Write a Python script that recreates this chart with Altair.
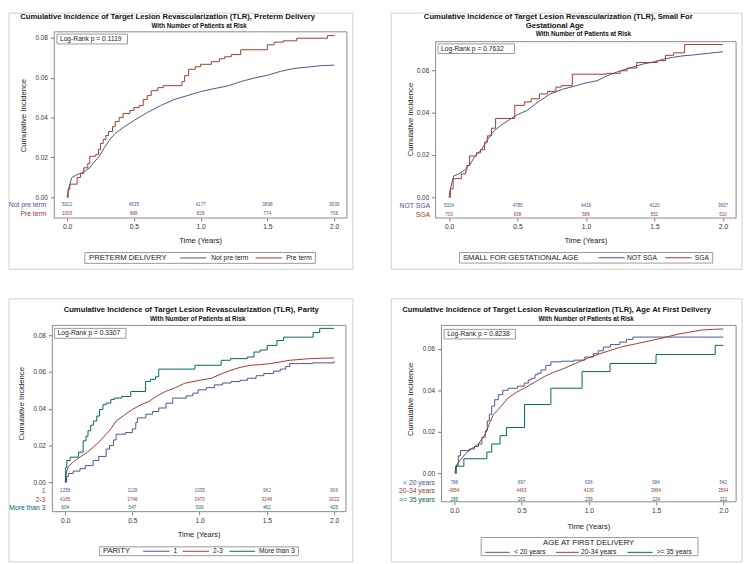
import altair as alt
import pandas as pd

FONT = "Liberation Sans"
BLUE, RED, GREEN = "#445694", "#A23A2E", "#01665E"
TXT = "#111111"
X_TICKS = [0.0, 0.5, 1.0, 1.5, 2.0]
RISK_TIMES = [0.0, 0.5, 1.0, 1.5, 2.0]

# ---------------- Panel 1: Preterm delivery ----------------
pt_groups = ["Not pre term", "Pre term"]
pt_not = [(0, 0), (0.01, 0.004), (0.035, 0.0099), (0.07, 0.0112), (0.1, 0.012), (0.14, 0.0135),
          (0.17, 0.0148), (0.2, 0.0175), (0.24, 0.0205), (0.28, 0.025), (0.32, 0.029), (0.36, 0.032),
          (0.42, 0.035), (0.5, 0.0385), (0.6, 0.0425), (0.7, 0.046), (0.8, 0.049), (0.9, 0.051),
          (1.0, 0.053), (1.1, 0.0545), (1.2, 0.0558), (1.3, 0.058), (1.4, 0.0598), (1.5, 0.0612),
          (1.6, 0.0632), (1.7, 0.0646), (1.8, 0.0653), (1.9, 0.066), (2.0, 0.0663)]
pt_pre = [(0, 0), (0.008, 0.004), (0.02, 0.0066), (0.075, 0.0099), (0.1, 0.012), (0.125, 0.0148),
          (0.155, 0.017), (0.17, 0.0206), (0.215, 0.0215), (0.235, 0.024), (0.25, 0.027), (0.27, 0.029),
          (0.29, 0.031), (0.31, 0.033), (0.34, 0.0354), (0.36, 0.038), (0.39, 0.04), (0.42, 0.042),
          (0.47, 0.0436), (0.5, 0.045), (0.54, 0.046), (0.57, 0.049), (0.6, 0.051), (0.63, 0.0535),
          (0.68, 0.055), (0.72, 0.056), (0.86, 0.058), (0.88, 0.061), (0.91, 0.0642), (0.96, 0.0655),
          (1.0, 0.0667), (1.08, 0.068), (1.14, 0.0695), (1.18, 0.0705), (1.23, 0.0716), (1.3, 0.074),
          (1.5, 0.0765), (1.55, 0.0778), (1.62, 0.0785), (1.72, 0.0798), (1.95, 0.0811), (2.0, 0.0815)]
pt_risk = [[5022, 4535, 4177, 3898, 3639], [1005, 888, 828, 774, 708]]
pt_p = "Log-Rank p = 0.1119"

# ---------------- Panel 2: Small for gestational age ----------------
sga_groups = ["NOT SGA", "SGA"]
sga_not = [(0, 0), (0.01, 0.004), (0.034, 0.0101), (0.07, 0.011), (0.106, 0.0124), (0.153, 0.0155),
           (0.19, 0.0194), (0.237, 0.0225), (0.27, 0.026), (0.3, 0.029), (0.33, 0.0315), (0.38, 0.034),
           (0.45, 0.037), (0.5, 0.039), (0.57, 0.041), (0.65, 0.045), (0.74, 0.0488), (0.83, 0.051),
           (0.93, 0.0527), (1.0, 0.054), (1.08, 0.055), (1.16, 0.0575), (1.25, 0.0597), (1.33, 0.0612),
           (1.41, 0.0628), (1.5, 0.064), (1.56, 0.0651), (1.63, 0.066), (1.7, 0.0667), (1.8, 0.0673),
           (1.9, 0.068), (2.0, 0.0687)]
sga_yes = [(0, 0), (0.01, 0.004), (0.03, 0.0088), (0.09, 0.011), (0.12, 0.0124), (0.13, 0.015),
           (0.15, 0.0195), (0.2, 0.021), (0.23, 0.0225), (0.26, 0.026), (0.28, 0.029), (0.31, 0.0326),
           (0.34, 0.0372), (0.48, 0.0434), (0.55, 0.045), (0.6, 0.0465), (0.66, 0.0488), (0.72, 0.05),
           (0.78, 0.052), (0.82, 0.0527), (0.9, 0.0581), (1.15, 0.0585), (1.25, 0.0597), (1.3, 0.061),
           (1.37, 0.0636), (1.52, 0.0645), (1.58, 0.067), (1.64, 0.0682), (1.72, 0.0721), (2.0, 0.0721)]
sga_risk = [[5324, 4785, 4418, 4120, 3837], [703, 638, 589, 552, 510]]
sga_p = "Log-Rank p = 0.7632"

# ---------------- Panel 3: Parity ----------------
par_groups = ["1", "2-3", "More than 3"]
par_1 = [(0, 0), (0.01, 0.003), (0.024, 0.0047), (0.06, 0.006), (0.11, 0.0073), (0.15, 0.009),
         (0.208, 0.0118), (0.25, 0.014), (0.305, 0.018), (0.33, 0.02), (0.36, 0.023), (0.379, 0.0261),
         (0.45, 0.027), (0.5, 0.029), (0.525, 0.0324), (0.537, 0.035), (0.6, 0.037), (0.65, 0.0385),
         (0.696, 0.0404), (0.75, 0.043), (0.8, 0.0458), (0.9, 0.047), (0.95, 0.0485), (0.989, 0.0503),
         (1.05, 0.0515), (1.11, 0.053), (1.17, 0.054), (1.233, 0.0548), (1.3, 0.0555), (1.355, 0.0566),
         (1.42, 0.058), (1.477, 0.0592), (1.55, 0.0605), (1.6, 0.0616), (1.64, 0.063), (1.67, 0.0646),
         (1.84, 0.065), (2.0, 0.066)]
par_23 = [(0, 0), (0.008, 0.005), (0.024, 0.0085), (0.06, 0.011), (0.11, 0.0136), (0.16, 0.016),
          (0.208, 0.019), (0.26, 0.0225), (0.305, 0.0261), (0.34, 0.029), (0.379, 0.0333), (0.44, 0.0365),
          (0.5, 0.0396), (0.56, 0.042), (0.623, 0.044), (0.68, 0.0468), (0.745, 0.0494), (0.82, 0.0515),
          (0.89, 0.0539), (0.98, 0.0552), (1.087, 0.0566), (1.16, 0.059), (1.233, 0.061), (1.3, 0.0625),
          (1.38, 0.0637), (1.45, 0.064), (1.526, 0.0646), (1.6, 0.0655), (1.67, 0.0664), (1.82, 0.0673),
          (2.0, 0.0677)]
par_3p = [(0, 0), (0.004, 0.008), (0.012, 0.0118), (0.037, 0.0136), (0.1, 0.0163), (0.134, 0.0225),
          (0.155, 0.025), (0.17, 0.028), (0.19, 0.031), (0.21, 0.0333), (0.235, 0.036), (0.256, 0.0396),
          (0.281, 0.0422), (0.305, 0.0431), (0.34, 0.045), (0.366, 0.0458), (0.42, 0.0467), (0.488, 0.0494),
          (0.598, 0.0548), (0.635, 0.056), (0.672, 0.0574), (0.696, 0.0616), (0.965, 0.0637), (1.16, 0.0664),
          (1.23, 0.0673), (1.355, 0.0682), (1.404, 0.0709), (1.45, 0.072), (1.502, 0.0745), (1.575, 0.0772),
          (1.624, 0.079), (1.844, 0.0816), (1.893, 0.0838), (2.0, 0.0838)]
par_risk = [[1258, 1128, 1035, 962, 906], [4165, 3748, 3470, 3248, 3022], [604, 547, 500, 462, 425]]
par_p = "Log-Rank p = 0.3307"

# ---------------- Panel 4: Age at first delivery ----------------
age_groups = ["< 20 years", "20-34 years", ">= 35 years"]
age_lt20 = [(0.01, 0), (0.015, 0.004), (0.03, 0.0085), (0.046, 0.011), (0.11, 0.0118), (0.15, 0.013),
            (0.18, 0.0142), (0.205, 0.0174), (0.23, 0.0205), (0.245, 0.0253), (0.26, 0.0285), (0.278, 0.0324),
            (0.3, 0.0355), (0.327, 0.0379), (0.36, 0.04), (0.4, 0.041), (0.47, 0.042), (0.52, 0.0435),
            (0.55, 0.045), (0.571, 0.0458), (0.6, 0.0475), (0.62, 0.0482), (0.645, 0.0498), (0.68, 0.052),
            (0.718, 0.0537), (0.8, 0.054), (0.89, 0.0545), (0.97, 0.056), (1.035, 0.0576), (1.07, 0.059),
            (1.108, 0.0608), (1.16, 0.062), (1.23, 0.0632), (1.28, 0.0645), (1.328, 0.0656), (2.0, 0.0656)]
age_2034 = [(0.005, 0), (0.01, 0.003), (0.022, 0.0047), (0.083, 0.0095), (0.13, 0.012), (0.18, 0.0142),
            (0.23, 0.019), (0.26, 0.0237), (0.29, 0.0284), (0.33, 0.031), (0.4, 0.0363), (0.46, 0.039),
            (0.52, 0.041), (0.6, 0.044), (0.669, 0.0466), (0.74, 0.0487), (0.815, 0.0505), (0.9, 0.053),
            (0.987, 0.0553), (1.07, 0.0573), (1.158, 0.0592), (1.25, 0.061), (1.353, 0.0624), (1.44, 0.0636),
            (1.524, 0.0648), (1.6, 0.066), (1.67, 0.0671), (1.75, 0.068), (1.84, 0.069), (1.92, 0.0693),
            (2.0, 0.0695)]
age_35p = [(0.01, 0), (0.011, 0.0035), (0.071, 0.0071), (0.242, 0.0103), (0.278, 0.0142), (0.34, 0.0182),
           (0.388, 0.0221), (0.522, 0.0332), (0.718, 0.041), (0.95, 0.049), (1.158, 0.0529), (1.5, 0.0572),
           (1.94, 0.0616), (2.0, 0.0616)]
age_risk = [[788, 697, 636, 584, 542], [4954, 4463, 4130, 3864, 3594], [285, 263, 239, 224, 211]]
age_p = "Log-Rank p = 0.8238"

TITLE = "Cumulative Incidence of Target Lesion Revascularization (TLR), "


def one(s=""):
    return pd.DataFrame({"s": [s]})


def txt(s, x, y, size, weight="normal", align="center", color=TXT, angle=0):
    return alt.Chart(one(s)).mark_text(
        font=FONT, fontSize=size, fontWeight=weight, align=align, baseline="middle",
        color=color, angle=angle).encode(x=alt.value(x), y=alt.value(y), text="s:N")


def box(b, stroke):
    x0, x1, y0, y1 = b
    return alt.Chart(one()).mark_rect(fillOpacity=0, stroke=stroke, strokeWidth=1).encode(
        x=alt.value(x0), x2=alt.value(x1), y=alt.value(y0), y2=alt.value(y1))


def hline(x0, x1, y, color):
    return alt.Chart(one()).mark_rule(color=color, strokeWidth=1).encode(
        x=alt.value(x0), x2=alt.value(x1), y=alt.value(y))


def make_panel(p):
    W, H = p["w"], p["h"]
    X = alt.X("t:Q", scale=alt.Scale(domain=p["xdom"], nice=False, zero=False),
              axis=alt.Axis(values=X_TICKS, format=".1f", title=None, grid=False, domain=False,
                            tickSize=3, tickColor="#777", labelFont=FONT, labelFontSize=6.8,
                            labelColor="#333", labelPadding=3))
    Y = alt.Y("v:Q", scale=alt.Scale(domain=p["ydom"], nice=False, zero=False),
              axis=alt.Axis(values=p["yticks"], format=".2f", title=None, grid=False, domain=False,
                            tickSize=4, tickColor="#777", labelFont=FONT, labelFontSize=6.5,
                            labelColor="#333", labelPadding=3, offset=p["yoff"]))
    L = [box(p["frame"], "#cfcfcf"), box(p["plot"], "#8a8a8a")]
    for s, x, y in p["titles"]:
        L.append(txt(s, x, y, 7.8, "bold"))
    sx, sy = p["sub"]
    L.append(txt("With Number of Patients at Risk", sx, sy, 6.4, "bold"))
    yx, yy = p["ylab"]
    L.append(txt("Cumulative Incidence", yx, yy, 7.8, angle=270, color="#222"))
    xx, xy = p["xlab"]
    L.append(txt("Time (Years)", xx, xy, 7.7, color="#222"))
    pb = p["pbox"]
    L.append(box(pb, "#999"))
    L.append(txt(p["ptext"], pb[0] + 3, (pb[2] + pb[3]) / 2, 6.8, align="left", color="#222"))
    for pts, col, interp in p["curves"]:
        df = pd.DataFrame(pts, columns=["t", "v"])
        L.append(alt.Chart(df).mark_line(interpolate=interp, color=col, strokeWidth=1).encode(x=X, y=Y))
    rows, lab = [], []
    for g, counts, col, ry in zip(p["groups"], p["risk"], p["colors"], p["rows"]):
        lab.append({"g": g, "v": ry, "c": col})
        for t, n in zip(RISK_TIMES, counts):
            rows.append({"t": t, "v": ry, "n": str(n), "c": col})
    L.append(alt.Chart(pd.DataFrame(rows)).mark_text(font=FONT, fontSize=4.6, baseline="middle").encode(
        x=X, y=Y, text="n:N", color=alt.Color("c:N", scale=None)))
    L.append(alt.Chart(pd.DataFrame(lab)).mark_text(font=FONT, fontSize=6.9, baseline="middle", align="right").encode(
        x=alt.value(p["labdx"]), y=Y, text="g:N", color=alt.Color("c:N", scale=None)))
    lg = p["legend"]
    L.append(box(lg["box"], "#999"))
    L.append(txt(lg["title"], lg["tx"], lg["ty"], 7.8, align=lg["talign"], color="#222"))
    for g, col, (lx0, lx1), tx in zip(p["groups"], p["colors"], lg["lines"], lg["labx"]):
        L.append(hline(lx0, lx1, lg["iy"], col))
        L.append(txt(g, tx, lg["iy"], 6.8, align="left", color="#222"))
    return alt.layer(*L).properties(width=W, height=H)


P1 = dict(
    w=299, h=189, xdom=[-0.1107, 2.0959], ydom=[-0.0104, 0.083], yticks=[0, 0.02, 0.04, 0.06, 0.08],
    plot=(2, 299, 0, 189), frame=(-44, 305, -19, 241), yoff=-2,
    titles=[(TITLE + "Preterm Delivery", 117, -15.3)],
    sub=(149, -6.3), ylab=(-29, 85), xlab=(150.5, 212),
    pbox=(4.7, 76.3, 2.3, 12.3), ptext=pt_p,
    curves=[(pt_not, BLUE, "linear"), (pt_pre, RED, "step-after")],
    groups=pt_groups, risk=pt_risk, colors=[BLUE, RED], rows=[-0.0040, -0.0084], labdx=-6,
    legend=dict(box=(33, 267, 224, 235), title="PRETERM DELIVERY", tx=37.3, ty=229.5, talign="left",
                iy=229.5, lines=[(129.7, 156.3), (206.3, 233)], labx=[161.3, 237.3]),
)
P2 = dict(
    w=305, h=189, xdom=[-0.098, 2.096], ydom=[-0.0098, 0.0781], yticks=[0, 0.02, 0.04, 0.06],
    plot=(0, 305, 10, 189), frame=(-45, 311, -19, 241), yoff=0,
    titles=[(TITLE + "Small For", 124.5, -15.3), ("Gestational Age", 121, -5.7)],
    sub=(150, 2.3), ylab=(-25, 89), xlab=(152.5, 212.3),
    pbox=(2.5, 80, 12.3, 22), ptext=sga_p,
    curves=[(sga_not, BLUE, "linear"), (sga_yes, RED, "step-after")],
    groups=sga_groups, risk=sga_risk, colors=[BLUE, RED], rows=[-0.0040, -0.0082], labdx=-5.7,
    legend=dict(box=(24.3, 281.3, 224, 234.7), title="SMALL FOR GESTATIONAL AGE", tx=27.7, ty=229.3,
                talign="left", iy=229.3, lines=[(165.3, 192), (233, 259.7)], labx=[194.3, 263]),
)
P3 = dict(
    w=299, h=189, xdom=[-0.0952, 2.0952], ydom=[-0.0161, 0.0854], yticks=[0, 0.02, 0.04, 0.06, 0.08],
    plot=(0, 298, 0, 189), frame=(-44, 305, -27, 240), yoff=0,
    titles=[(TITLE + "Parity", 141, -15.3)],
    sub=(147.5, -7), ylab=(-30.3, 79.5), xlab=(149, 213),
    pbox=(2.3, 74.7, 3, 13), ptext=par_p,
    curves=[(par_1, BLUE, "step-after"), (par_23, RED, "linear"), (par_3p, GREEN, "step-after")],
    groups=par_groups, risk=par_risk, colors=[BLUE, RED, GREEN], rows=[-0.0048, -0.0097, -0.0142],
    labdx=-7,
    legend=dict(box=(48, 249.7, 224.7, 233.7), title="PARITY", tx=51.3, ty=229.2, talign="left",
                iy=229.2, lines=[(92.3, 119), (132.3, 159), (179.7, 205.7)], labx=[123, 163, 209.7]),
)
P4 = dict(
    w=305, h=179, xdom=[-0.1392, 2.0952], ydom=[-0.0136, 0.0712], yticks=[0, 0.02, 0.04, 0.06],
    plot=(6, 305, 0, 179), frame=(-45, 311, -27, 240), yoff=-6,
    titles=[(TITLE + "Age At First Delivery", 122.8, -15.7)],
    sub=(152.8, -7), ylab=(-24.7, 75), xlab=(155.5, 204.3),
    pbox=(8.7, 81, 4, 13.7), ptext=age_p,
    curves=[(age_lt20, BLUE, "step-after"), (age_2034, RED, "linear"), (age_35p, GREEN, "step-after")],
    groups=age_groups, risk=age_risk, colors=[BLUE, RED, GREEN], rows=[-0.0046, -0.0085, -0.0127],
    labdx=-0.7,
    legend=dict(box=(46.3, 266.3, 215.3, 233.7), title="AGE AT FIRST DELIVERY", tx=155.3, ty=221,
                talign="center", iy=230.3, lines=[(50.3, 75.3), (122, 145.3), (194.7, 220.3)],
                labx=[79.7, 147.7, 224.3]),
)

row1 = alt.hconcat(make_panel(P1), make_panel(P2), spacing=37)
row2 = alt.hconcat(make_panel(P3), make_panel(P4), spacing=37)
chart = alt.vconcat(row1, row2, spacing=28).properties(padding=0).configure_view(
    stroke="transparent", strokeWidth=0)

chart.save("out.html", embed_options={"renderer": "svg", "actions": False})
